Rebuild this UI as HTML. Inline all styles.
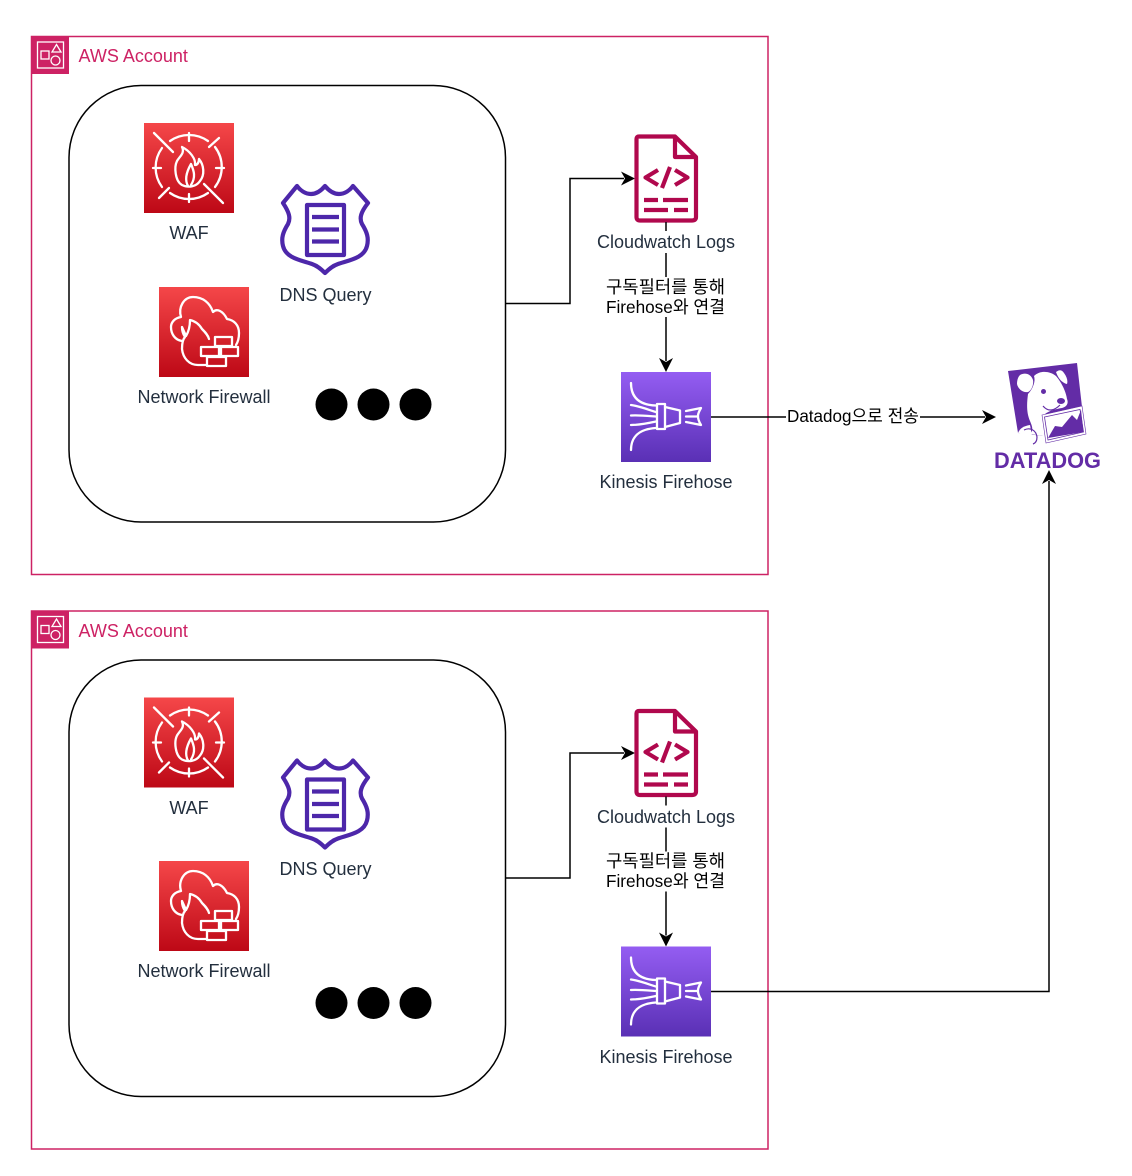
<!DOCTYPE html>
<html><head><meta charset="utf-8"><style>
html,body{margin:0;padding:0;background:#fff}
svg{display:block}
text{font-family:"Liberation Sans","Noto Sans CJK KR",sans-serif;font-size:18px}
.l{fill:#232F3E;text-anchor:middle}
.k{fill:#000;font-size:17.500px}
.a{fill:#CD2264}
.w{fill:none;stroke:#fff;stroke-width:2.300;stroke-linecap:round;stroke-linejoin:round}
.c{fill:none;stroke:#000;stroke-width:1.500}
</style></head><body>
<svg width="1132" height="1176" viewBox="0 0 1132 1176" xmlns="http://www.w3.org/2000/svg">
<defs>
<linearGradient id="r" x1="0" y1="0" x2="0" y2="1"><stop offset="0" stop-color="#F54749"/><stop offset="1" stop-color="#BD0816"/></linearGradient>
<linearGradient id="p" x1="0" y1="0" x2="0" y2="1"><stop offset="0" stop-color="#945DF2"/><stop offset="1" stop-color="#5A30B5"/></linearGradient>
<symbol id="acc" overflow="visible">
<rect x="31.500" y="36.500" width="736.500" height="538" fill="none" stroke="#CD2264" stroke-width="1.500"/>
<rect x="31" y="36" width="38" height="38" fill="#CD2264"/>
<g fill="none" stroke="#fff" stroke-width="1.300">
<rect x="37.500" y="42" width="26" height="26"/>
<rect x="41" y="51" width="8" height="8"/>
<path d="M56.500 44.500 L61 52 H52 Z"/>
<circle cx="55.500" cy="60.500" r="4.500"/>
</g>
<rect x="69" y="85.500" width="436.500" height="436.500" rx="72" fill="#fff" stroke="#000" stroke-width="1.500"/>
</symbol>
<symbol id="waf" overflow="visible">
<rect width="90" height="90" fill="url(#r)"/>
<g class="w">
<path d="M10 10 L29 29 M60 61 L79 80 M75 15 L65 24 M25 65 L15 75"/>
<path d="M26 18 A33 33 0 0 1 64 18 M71 24 A33 33 0 0 1 71 64 M64 70 A33 33 0 0 1 26 70 M18 64 A33 33 0 0 1 18 25"/>
<path d="M45 10 V18 M45 71 V79 M9 45 H17 M72 45 H80"/>
<path d="M38 24 C41 30 36 33 33 38 C30 44 31 58 38 62 C44 65 52 64 56 58 C61 52 60 42 55 36 C55 40 53 42 51 42 C52 36 46 28 38 24 Z"/>
<path d="M44 63 C40 56 43 48 47 41 C50 48 52 54 47 62"/>
</g>
</symbol>
<symbol id="fw" overflow="visible">
<rect width="90" height="90" fill="url(#r)"/>
<g class="w">
<path d="M23 54 C16 53 12 47 12 40 C12 35 16 31 22 30 C19 20 25 10 34 10 C44 10 51 16 54 25 C58 21 64 24 68 32 C75 33 80 38 80 46 C80 51 79 55 77 58"/>
<path d="M47 78 H39 C30 78 24 71 23 62 C23 57 24 52 26 50 C24 47 23 44 23 40 L27 49 C30 44 31 38 31 33 C36 34 40 37 43 42 C46 45 49 48 50 52"/>
<rect x="56" y="50" width="17" height="9"/>
<rect x="42" y="60" width="18" height="9"/>
<rect x="62" y="60" width="17" height="9"/>
<rect x="48" y="70" width="19" height="9"/>
</g>
</symbol>
<symbol id="dns" overflow="visible">
<g fill="none" stroke="#4D27AA" stroke-width="4.200" stroke-linejoin="round">
<path d="M325 186 C320 192 315 194 311 194 C305 194 300 190 297 186 L283 203 C289 212 291 218 288 224 C283 232 281 238 283 246 C286 258 300 260 312 264 C318 266 322 270 325 273 C328 270 332 266 338 264 C350 260 364 258 367 246 C369 238 367 232 362 224 C359 218 361 212 368 203 L353 186 C350 190 345 194 339 194 C335 194 330 192 325 186 Z"/>
<rect x="307" y="205" width="37" height="50"/>
<path d="M312 217 H339 M312 229.500 H339 M312 241.500 H339"/>
</g>
</symbol>
<symbol id="logs" overflow="visible">
<g fill="none" stroke="#B0084D" stroke-width="4.200" stroke-linejoin="round">
<path d="M639 136.500 H675 L696 157 V217 Q696 220.500 692 220.500 H640 Q636.500 220.500 636.500 217 V139 Q636.500 136.500 639 136.500 Z"/>
<path d="M675 136.500 V157 H696"/>
<path d="M658 170 L645.500 177.500 L658 185 M675 170 L687.500 177.500 L675 185 M670 167 L662 188"/>
<path d="M644 200 H658 M663 200 H688 M644 210 H668 M674 210 H688"/>
</g>
</symbol>
<symbol id="kin" overflow="visible">
<rect width="90" height="90" fill="url(#p)"/>
<g class="w">
<rect x="36" y="32" width="8" height="25"/>
<path d="M44 35 L59 38.500 V51 L44 55"/>
<path d="M10 11 C10 25 18 33 35 33.500 M10 78 C10 65 18 57 35 56 M10 33 C18 34 28 38 35 40 M10 43.500 C18 43 28 44 35 44.500 M10 53 C18 53 28 51 35 49.500"/>
<path d="M65 39 L80 36 C77 41 75 45 80 53 L65 50 M65 44.500 H76"/>
</g>
</symbol>
</defs>

<use href="#acc"/>
<use href="#acc" y="574.500"/>

<g id="top">
<text class="a" x="78.500" y="62">AWS Account</text>
<use href="#waf" x="144" y="123"/>
<text class="l" x="189" y="239">WAF</text>
<use href="#dns"/>
<text class="l" x="325.500" y="301">DNS Query</text>
<use href="#fw" x="159" y="287"/>
<text class="l" x="204" y="403">Network Firewall</text>
<circle cx="331.500" cy="404.500" r="16"/><circle cx="373.500" cy="404.500" r="16"/><circle cx="415.500" cy="404.500" r="16"/>
<path class="c" d="M506 303.500 H570 V178.500 H624"/>
<path d="M635 178.500 L621 171.500 L625 178.500 L621 185.500 Z"/>
<use href="#logs"/>
<path class="c" d="M666 222 V361"/>
<path d="M666 372 L659 358 L666 362 L673 358 Z"/>
<rect x="590" y="231" width="150" height="22" fill="#fff"/>
<text class="l" x="666" y="248">Cloudwatch Logs</text>
<rect x="604" y="277" width="124" height="40" fill="#fff"/>
<text class="k" x="606" y="293" textLength="119" lengthAdjust="spacingAndGlyphs">구독필터를 통해</text>
<text class="k" x="606" y="313" textLength="119" lengthAdjust="spacingAndGlyphs">Firehose와 연결</text>
<use href="#kin" x="621" y="372"/>
<text class="l" x="666" y="488">Kinesis Firehose</text>
</g>

<g id="bottom">
<text class="a" x="78.500" y="637">AWS Account</text>
<use href="#waf" x="144" y="697.500"/>
<text class="l" x="189" y="814">WAF</text>
<use href="#dns" y="574.500"/>
<text class="l" x="325.500" y="875">DNS Query</text>
<use href="#fw" x="159" y="861"/>
<text class="l" x="204" y="977">Network Firewall</text>
<circle cx="331.500" cy="1003" r="16"/><circle cx="373.500" cy="1003" r="16"/><circle cx="415.500" cy="1003" r="16"/>
<path class="c" d="M506 878 H570 V753 H624"/>
<path d="M635 753 L621 746 L625 753 L621 760 Z"/>
<use href="#logs" y="574.500"/>
<path class="c" d="M666 796.500 V935.500"/>
<path d="M666 946.500 L659 932.500 L666 936.500 L673 932.500 Z"/>
<rect x="590" y="805.500" width="150" height="22" fill="#fff"/>
<text class="l" x="666" y="823">Cloudwatch Logs</text>
<rect x="604" y="851.500" width="124" height="40" fill="#fff"/>
<text class="k" x="606" y="867" textLength="119" lengthAdjust="spacingAndGlyphs">구독필터를 통해</text>
<text class="k" x="606" y="887" textLength="119" lengthAdjust="spacingAndGlyphs">Firehose와 연결</text>
<use href="#kin" x="621" y="946.500"/>
<text class="l" x="666" y="1063">Kinesis Firehose</text>
</g>

<path class="c" d="M711 417 H985"/>
<path d="M996 417 L982 410 L986 417 L982 424 Z"/>
<rect x="786" y="406" width="134" height="22" fill="#fff"/>
<text class="k" x="787" y="422" textLength="132" lengthAdjust="spacingAndGlyphs">Datadog으로 전송</text>

<path class="c" d="M711 991.500 H1049 V481"/>

<path d="M1008 371 L1077 363 L1082 407 L1042 416 L1043 436 L1018 433 Z" fill="#632CA6"/>
<g fill="#fff">
<path d="M1020 375 C1025 372 1031 374 1033 380 C1034 385 1031 391 1028 392 C1023 393 1018 389 1017 384 C1017 380 1018 377 1020 375 Z"/>
<path d="M1034 376 C1040 370 1050 371 1056 376 C1062 383 1066 392 1067 399 C1069 404 1066 407 1062 408 C1055 409 1049 411 1045 414 L1043 436 L1030 434 C1034 430 1032 426 1030 421 C1026 412 1027 402 1028 394 C1032 390 1036 382 1034 376 Z"/>
<path d="M1018 433 C1020 428 1024 426 1030 425 L1032 436 Z"/>
<path d="M1056 372 C1060 369 1062 370 1064 373 C1067 377 1068 381 1067 384 C1062 383 1058 378 1056 372 Z"/>
</g>
<path d="M1042 415 L1082 406 L1086 434 L1046 443 Z" fill="#fff" stroke="#632CA6" stroke-width="0.600"/>
<path d="M1044.500 417 L1080 409.500 L1083.500 432 L1048 440 Z" fill="none" stroke="#632CA6" stroke-width="0.800"/>
<path d="M1048 438 L1055 426 L1062 427 L1072 415 L1077 420 L1081 410 L1083.500 432 Z" fill="#632CA6"/>
<ellipse cx="1043.500" cy="391.500" rx="2.500" ry="2.500" fill="#632CA6"/>
<ellipse cx="1061" cy="401" rx="4" ry="3" fill="#632CA6"/>
<path d="M1043 406 C1048 412 1054 411 1060 405" fill="none" stroke="#632CA6" stroke-width="1.200"/>
<path d="M1024 430 C1030 427 1036 430 1037 437 C1037 440 1036 443 1033 444" fill="none" stroke="#632CA6" stroke-width="1.200"/>
<text x="994" y="468" textLength="107" lengthAdjust="spacingAndGlyphs" style="font-size:22px;font-weight:bold;fill:#632CA6">DATADOG</text>
<path d="M1049 470 L1042 484 L1049 480 L1056 484 Z"/>
</svg>
</body></html>
